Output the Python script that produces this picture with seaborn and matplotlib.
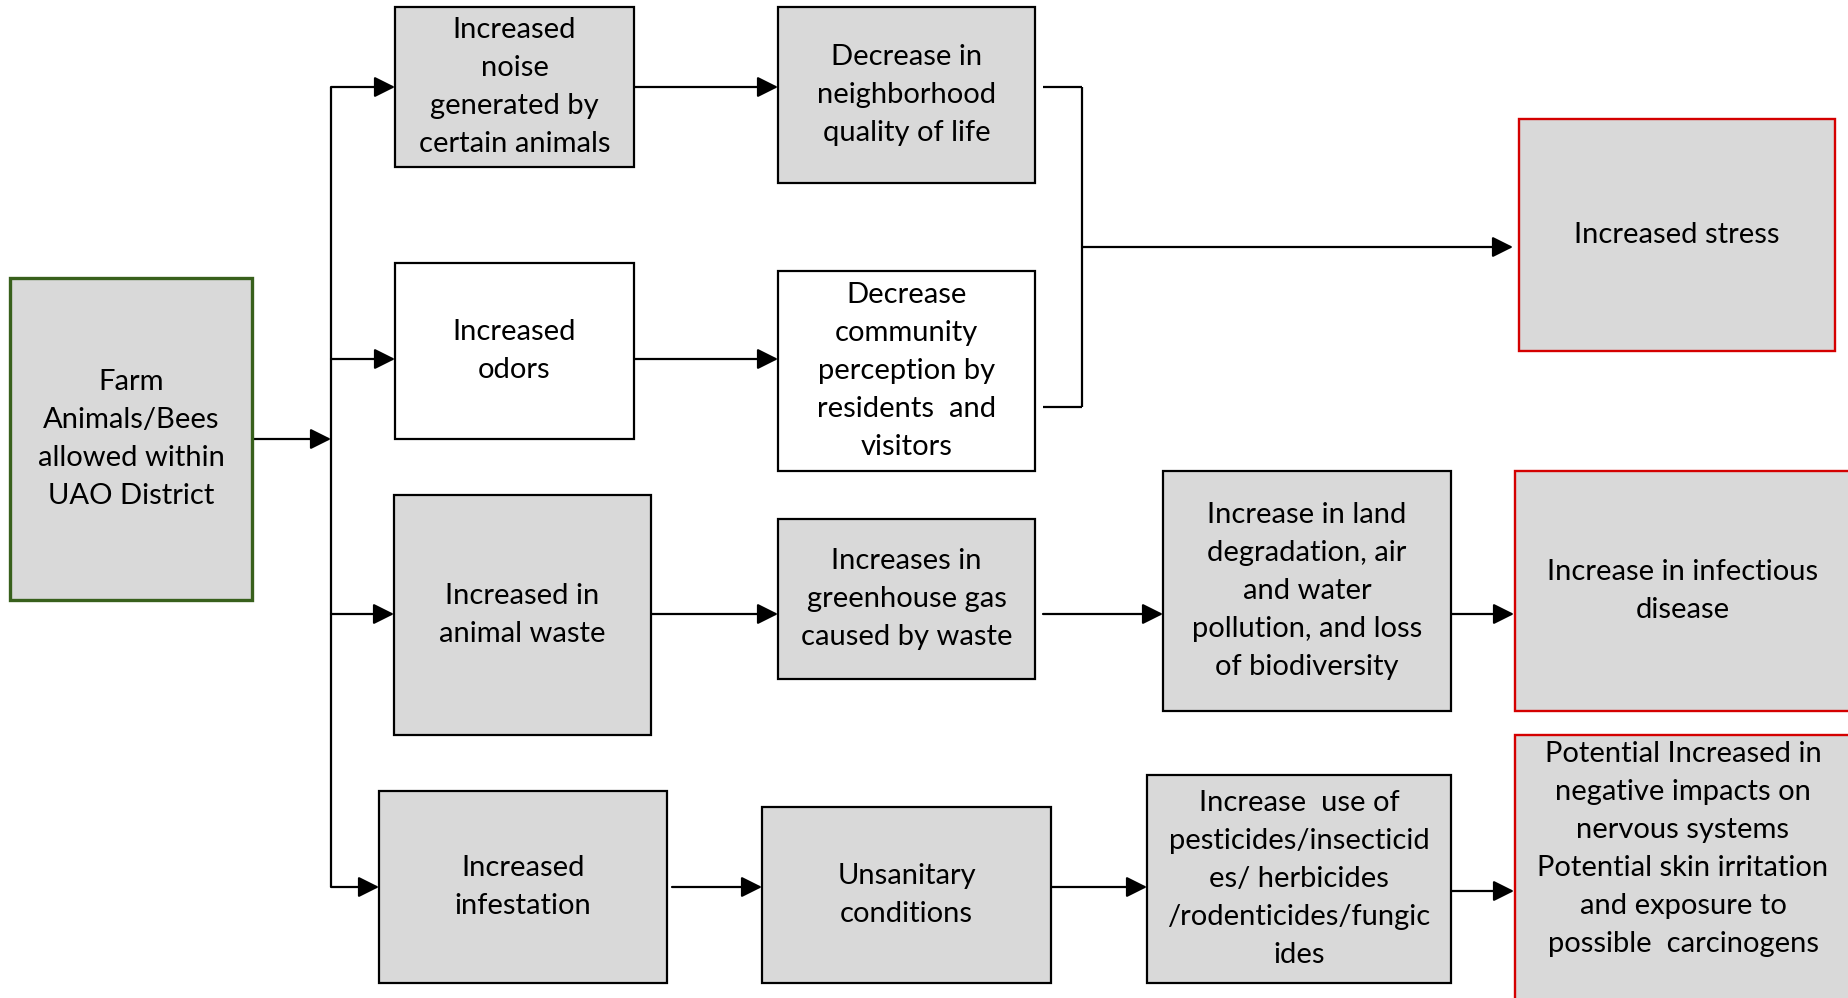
import matplotlib
matplotlib.use("Agg")
import matplotlib.pyplot as plt
import seaborn as sns
from matplotlib.patches import Rectangle

# Texto de cada caja del diagrama
labels = [
    "Farm\nAnimals/Bees\nallowed within\nUAO District",
    "Increased\nnoise\ngenerated by\ncertain animals",
    "Increased\nodors",
    "Increased in\nanimal waste",
    "Increased\ninfestation",
    "Decrease in\nneighborhood\nquality of life",
    "Decrease\ncommunity\nperception by\nresidents  and\nvisitors",
    "Increases in\ngreenhouse gas\ncaused by waste",
    "Unsanitary\nconditions",
    "Increase in land\ndegradation, air\nand water\npollution, and loss\nof biodiversity",
    "Increase  use of\npesticides/insecticid\nes/ herbicides\n/rodenticides/fungic\nides",
    "Increased stress",
    "Increase in infectious\ndisease",
    "Potential Increased in\nnegative impacts on\nnervous systems\nPotential skin irritation\nand exposure to\npossible  carcinogens",
]
kinds = ["root", "grey", "white", "grey", "grey", "grey", "white", "grey",
         "grey", "grey", "grey", "outcome", "outcome", "outcome"]

# Posicion de cada caja en pixeles (x0, y0, x1, y1)
boxes = [
    (10, 278, 252, 600),
    (395, 7, 634, 167),
    (395, 263, 634, 439),
    (394, 495, 651, 735),
    (379, 791, 667, 983),
    (778, 7, 1035, 183),
    (778, 271, 1035, 471),
    (778, 519, 1035, 679),
    (762, 807, 1051, 983),
    (1163, 471, 1451, 711),
    (1147, 775, 1451, 983),
    (1519, 119, 1835, 351),
    (1515, 471, 1851, 711),
    (1515, 735, 1851, 1010),
]
text_y = {13: 849}

# Flechas (x inicio, x fin, y)
arrows = [
    (252, 331, 439), (331, 395, 87), (331, 395, 359), (331, 394, 614),
    (331, 379, 887), (634, 778, 87), (634, 778, 359), (1082, 1513, 247),
    (651, 778, 614), (1043, 1163, 614), (1451, 1514, 614),
    (672, 762, 887), (1051, 1147, 887), (1451, 1514, 891),
]
# Lineas sin punta
lines = [
    ((331, 331), (87, 887)),
    ((1043, 1082), (87, 87)),
    ((1043, 1082), (407, 407)),
    ((1082, 1082), (87, 407)),
]

sns.set_style("white")
plt.rcParams['font.family'] = ['Lato', 'DejaVu Sans']

fig = plt.figure(figsize=(18.49, 9.98), dpi=100)
ax = fig.add_axes([0, 0, 1, 1])
ax.set_xlim(0, 1849)
ax.set_ylim(998, 0)
ax.axis("off")

styles = {
    "root": ("#d9d9d9", "#38601c", 2.4),
    "grey": ("#d9d9d9", "black", 1.6),
    "white": ("white", "black", 1.6),
    "outcome": ("#d9d9d9", "#d40000", 1.7),
}

for i, (lab, kind, (x0, y0, x1, y1)) in enumerate(zip(labels, kinds, boxes)):
    fc, ec, lw = styles[kind]
    ax.add_patch(Rectangle((x0, y0), x1 - x0, y1 - y0, facecolor=fc,
                           edgecolor=ec, linewidth=lw, zorder=2))
    ty = text_y.get(i, (y0 + y1) / 2)
    ax.text((x0 + x1) / 2, ty, lab, ha="center", va="center",
            fontsize=21, linespacing=1.57, color="black", zorder=3)

for xs, ys in lines:
    ax.plot(xs, ys, color="black", lw=1.6, solid_capstyle="butt", zorder=1)

for xa, xb, y in arrows:
    ax.annotate("", xy=(xb, y), xytext=(xa, y),
                arrowprops=dict(arrowstyle="-|>,head_length=0.7,head_width=0.35",
                                color="black", lw=1.6, shrinkA=0, shrinkB=0,
                                mutation_scale=18),
                zorder=1)

fig.savefig("out.png", dpi=100)
